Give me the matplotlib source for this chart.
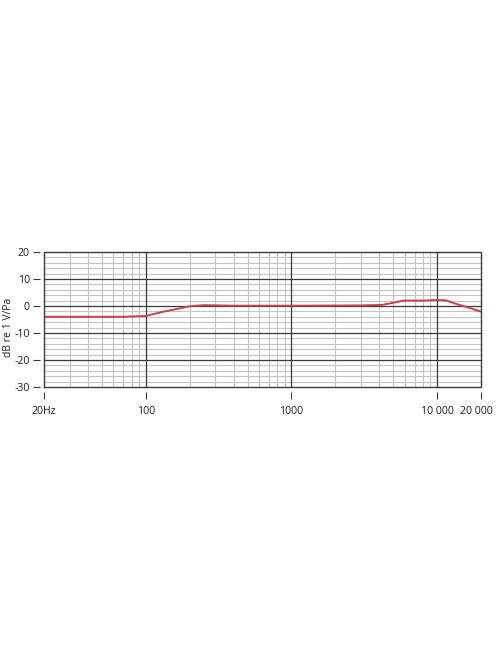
import numpy as np
import matplotlib.pyplot as plt
import matplotlib.transforms as mtransforms
from matplotlib.ticker import FixedLocator, NullFormatter

# frequency response
freq_hz = [20, 40, 70, 100, 130, 170, 200, 250, 400, 1000, 3000, 4200,
           5000, 5900, 8000, 10000, 11500, 13800, 16000, 20000]
level_db = [-4.0, -4.0, -4.0, -3.7, -2.2, -0.9, -0.1, 0.3, 0.1, 0.1, 0.2, 0.4,
            1.2, 2.0, 2.0, 2.2, 2.1, 0.6, -0.4, -2.1]

x_ticks = [20, 100, 1000, 10000, 20000]
x_labels = ['20Hz', '100', '1000', '10 000', '20 000']
y_ticks = [20, 10, 0, -10, -20, -30]
y_labels = ['20', '10', '0', '-10', '-20', '-30']

major_col = '#3a3a3a'
minor_col = '#c4c4c4'
curve_col = '#c9404d'
text_col = '#1e1e1e'

plt.rcParams['font.family'] = ['Open Sans', 'DejaVu Sans']

fig = plt.figure(figsize=(4.96, 6.64), dpi=100)
ax = fig.add_axes([0.0887, 0.4172, 0.881, 0.2033])

ax.set_xscale('log')
ax.set_xlim(20, 20000)
ax.set_ylim(-30, 20)

# grid
minor_x = [m * d for d in (10, 100, 1000) for m in range(2, 10) if 20 < m * d < 10000]
for f in minor_x:
    ax.axvline(f, color=minor_col, lw=0.8, zorder=1)
for db in range(-28, 20, 2):
    if db % 10 != 0:
        ax.axhline(db, color=minor_col, lw=0.8, zorder=1)
for f in (100, 1000, 10000):
    ax.axvline(f, color=major_col, lw=0.9, zorder=2)
for db in (10, 0, -10, -20):
    ax.axhline(db, color=major_col, lw=0.9, zorder=2)

ax.plot(freq_hz, level_db, color=curve_col, lw=1.4, zorder=3)

# frame drawn by hand, ticks sit a little away from it
for side in ('top', 'right', 'left', 'bottom'):
    ax.spines[side].set_visible(False)
ax.spines['bottom'].set_position(('outward', 3.3))
ax.spines['left'].set_position(('outward', 2.9))
frame_x = [20, 20000, 20000, 20, 20]
frame_y = [-30, -30, 20, 20, -30]
ax.plot(frame_x, frame_y, color=major_col, lw=1.0, clip_on=False, zorder=4)

ax.xaxis.set_major_locator(FixedLocator(x_ticks))
ax.set_xticklabels(x_labels)
ax.xaxis.set_minor_formatter(NullFormatter())
ax.xaxis.set_minor_locator(FixedLocator([]))
ax.set_yticks(y_ticks)
ax.set_yticklabels(y_labels)
ax.tick_params(axis='both', direction='out', length=4.8, width=0.8,
               color=major_col, labelsize=7.6, labelcolor=text_col)
ax.tick_params(axis='x', pad=5.5)
ax.tick_params(axis='y', pad=2.5)

# last label sits right at the edge of the picture, nudge it in a little
last = ax.get_xticklabels()[-1]
last.set_transform(last.get_transform() +
                   mtransforms.ScaledTranslation(-3 / 72, 0, fig.dpi_scale_trans))

ax.set_ylabel('dB re 1 V/Pa', fontsize=7.5, color=text_col)
ax.yaxis.set_label_coords(-0.068, 0.44)

fig.savefig('out.png', dpi=100)
